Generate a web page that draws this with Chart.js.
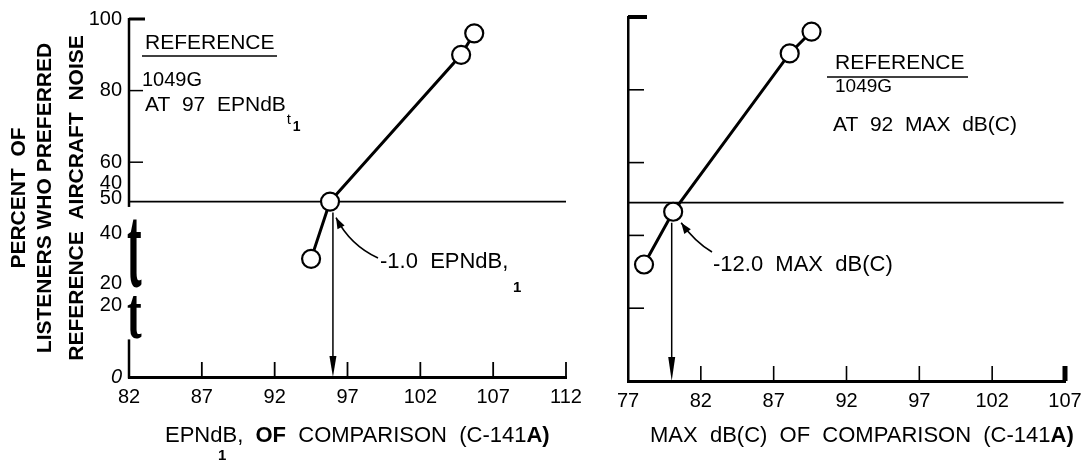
<!DOCTYPE html>
<html><head><meta charset="utf-8">
<script src="https://cdn.jsdelivr.net/npm/chart.js@4/dist/chart.umd.min.js"></script>
<style>
html,body{margin:0;padding:0;background:#fff;}
#wrap{position:relative;width:1091px;height:463px;background:#fff;}
canvas{position:absolute;left:0;top:0;}
</style></head><body>
<div id="wrap"><canvas id="c1" width="1091" height="463"></canvas><canvas id="c2" width="1091" height="463"></canvas></div>
<script>
// ---- data ----
const leftX = [94.5, 95.8, 104.8, 105.7];
const leftY = [33, 49, 90, 96];
const rightX = [78.1, 80.1, 88.1, 89.6];
const rightY = [32, 46.5, 90, 96];
const referenceLevel = 49;
const leftCrossX = 96;   // 97 - 1.0 EPNdB
const rightCrossX = 80;  // 92 - 12.0 MAX dB(C)
const leftXTicks = [82, 87, 92, 97, 102, 107, 112];
const rightXTicks = [77, 82, 87, 92, 97, 102, 107];
const leftYTickValues = [0, 20, 26, 40, 50, 54, 60, 80, 100];
const leftYTickLabels = ['0', '20', '20', '40', '50', '40', '60', '80', '100'];
const leftYMarks = [60, 80, 100];
const rightYMarks = [20, 40, 60, 80, 100];

const FONT = '"Liberation Sans", Arial, sans-serif';

function line(ctx, x1, y1, x2, y2, w) { ctx.beginPath(); ctx.lineWidth = w; ctx.moveTo(x1, y1); ctx.lineTo(x2, y2); ctx.stroke(); }
function txt(ctx, s, x, y, font, align) { ctx.font = font; ctx.textAlign = align || 'left'; ctx.fillText(s, x, y); return ctx.measureText(s).width; }
function arrowHead(ctx, x, y, dx, dy, len, half) {
  const n = Math.hypot(dx, dy), ux = dx / n, uy = dy / n;
  ctx.beginPath(); ctx.moveTo(x, y);
  ctx.lineTo(x - ux * len - uy * half, y - uy * len + ux * half);
  ctx.lineTo(x - ux * len + uy * half, y - uy * len - ux * half);
  ctx.closePath(); ctx.fill();
}
function curvedArrow(ctx, sx, sy, cx, cy, ex, ey) {
  ctx.beginPath(); ctx.lineWidth = 1.6; ctx.moveTo(sx, sy); ctx.quadraticCurveTo(cx, cy, ex, ey); ctx.stroke();
  arrowHead(ctx, ex, ey, ex - cx, ey - cy, 11, 4);
}
function seq(ctx, parts, x, y) {
  parts.forEach(p => { ctx.font = p[1]; ctx.textAlign = 'left'; ctx.fillText(p[0], x, y); x += ctx.measureText(p[0]).width; });
}

const leftDeco = {
  id: 'leftDeco',
  afterDraw(chart) {
    const { ctx, chartArea: a, scales: { x, y } } = chart;
    ctx.save(); ctx.strokeStyle = '#000'; ctx.fillStyle = '#000'; ctx.textBaseline = 'middle';
    // broken y axis
    line(ctx, a.left, y.getPixelForValue(100) - 1, a.left, y.getPixelForValue(47.5), 2.5);
    line(ctx, a.left, y.getPixelForValue(10.5), a.left, a.bottom + 1.5, 2.5);
    // bracket glyphs
    ctx.textBaseline = 'alphabetic'; ctx.textAlign = 'left';
    ctx.font = 'bold 44px "Liberation Serif", serif';
    ctx.save(); ctx.translate(a.left - 2, 287); ctx.scale(1, 2.7); ctx.fillText('t', 0, 0); ctx.restore();
    ctx.save(); ctx.translate(a.left - 2, 338); ctx.scale(1, 1.7); ctx.fillText('t', 0, 0); ctx.restore();
    ctx.textBaseline = 'middle';
    // inward ticks
    leftYMarks.forEach(v => { const py = y.getPixelForValue(v); line(ctx, a.left, py, a.left + (v === 100 ? 16 : 14), py, v === 100 ? 3 : 1.5); });
    leftXTicks.slice(1).forEach(v => { const px = x.getPixelForValue(v); line(ctx, px, a.bottom, px, a.bottom - 15, 1.8); });
    // vertical arrow
    const ax = x.getPixelForValue(leftCrossX);
    const ty = y.getPixelForValue(leftY[1]) + 11;
    line(ctx, ax, ty, ax, a.bottom - 15, 1.5);
    arrowHead(ctx, ax, a.bottom, 0, 1, 21, 3.5);
    // curved arrow
    const px = x.getPixelForValue(leftX[1]), py = y.getPixelForValue(leftY[1]);
    curvedArrow(ctx, 378, 258, 350, 245, px + 6, py + 16);
    // annotations
    txt(ctx, 'REFERENCE', 145, 43, '21px ' + FONT);
    line(ctx, 142, 56, 277, 56, 1.5);
    txt(ctx, '1049G', 142, 80, '20px ' + FONT);
    const w = txt(ctx, 'AT  97  EPNdB', 145, 105, '21px ' + FONT);
    txt(ctx, 't', 145 + w + 1, 120, '15px ' + FONT);
    txt(ctx, '1', 145 + w + 7, 127, 'bold 14px ' + FONT);
    txt(ctx, '-1.0  EPNdB,', 380, 262, '22px ' + FONT);
    txt(ctx, '1', 513, 288, 'bold 15px ' + FONT);
    // x title
    seq(ctx, [['EPNdB,  ', '22px ' + FONT], ['OF', 'bold 22px ' + FONT], ['  COMPARISON  (C-141', '22px ' + FONT], ['A)', 'bold 22px ' + FONT]], 165, 436);
    txt(ctx, '1', 218, 456, 'bold 15px ' + FONT);
    // y title
    const ytitle = ['PERCENT  OF', 'LISTENERS WHO PREFERRED', 'REFERENCE  AIRCRAFT  NOISE'];
    const xs = [19, 45, 77];
    ytitle.forEach((s, i) => { ctx.save(); ctx.translate(xs[i], 198); ctx.rotate(-Math.PI / 2); txt(ctx, s, 0, 0, 'bold 21px ' + FONT, 'center'); ctx.restore(); });
    ctx.restore();
  }
};

const rightDeco = {
  id: 'rightDeco',
  afterDraw(chart) {
    const { ctx, chartArea: a, scales: { x, y } } = chart;
    ctx.save(); ctx.strokeStyle = '#000'; ctx.fillStyle = '#000'; ctx.textBaseline = 'middle';
    rightYMarks.forEach(v => { const py = y.getPixelForValue(v); line(ctx, a.left, py, a.left + (v === 100 ? 19 : 16), py, v === 100 ? 4 : 1.6); });
    rightXTicks.slice(1).forEach(v => { const px = x.getPixelForValue(v); line(ctx, px, a.bottom, px, a.bottom - 15, v === 107 ? 5 : 1.6); });
    const ax = x.getPixelForValue(rightCrossX);
    const ty = y.getPixelForValue(rightY[1]) + 11;
    line(ctx, ax, ty, ax, a.bottom - 15, 1.5);
    arrowHead(ctx, ax, a.bottom, 0, 1, 24, 3.5);
    const px = x.getPixelForValue(rightX[1]), py = y.getPixelForValue(rightY[1]);
    curvedArrow(ctx, 712, 252, 695, 242, px + 8, py + 11);
    txt(ctx, 'REFERENCE', 835, 63, '21px ' + FONT);
    line(ctx, 827, 77, 968, 77, 1.5);
    txt(ctx, '1049G', 835, 87, '19px ' + FONT);
    txt(ctx, 'AT  92  MAX  dB(C)', 833, 125, '21px ' + FONT);
    txt(ctx, '-12.0  MAX  dB(C)', 713, 265, '22px ' + FONT);
    seq(ctx, [['MAX  dB(C)  OF  COMPARISON  (C-141', '22px ' + FONT], ['A)', 'bold 22px ' + FONT]], 650, 436);
    ctx.restore();
  }
};

function pointSet(xs, ys) {
  return { data: xs.map((v, i) => ({ x: v, y: ys[i] })), showLine: true, borderColor: '#000', borderWidth: 3,
    pointRadius: 9, pointBackgroundColor: '#fff', pointBorderColor: '#000', pointBorderWidth: 2.2 };
}
function refSet(x0, x1) {
  return { data: [{ x: x0, y: referenceLevel }, { x: x1, y: referenceLevel }], showLine: true, borderColor: '#000', borderWidth: 1.6, pointRadius: 0 };
}
const tickFont = (size) => (c) => ({ family: FONT, size: size, style: (c.tick && c.tick.value === 0 && c.scale && c.scale.axis === 'y') ? 'italic' : 'normal' });

new Chart(document.getElementById('c1'), {
  type: 'scatter',
  data: { datasets: [pointSet(leftX, leftY), refSet(82, 112)] },
  options: {
    responsive: false, animation: false, events: [],
    layout: { padding: { left: 0, top: 16, right: 525, bottom: 0 } },
    plugins: { legend: { display: false }, tooltip: { enabled: false } },
    scales: {
      x: { type: 'linear', min: 82, max: 112,
        afterBuildTicks: s => { s.ticks = leftXTicks.map(v => ({ value: v })); },
        ticks: { color: '#000', font: tickFont(20), padding: 8, autoSkip: false, maxRotation: 0 },
        grid: { display: false, drawTicks: false }, border: { display: true, color: '#000', width: 3 },
        afterFit: s => { s.height = 86; } },
      y: { type: 'linear', min: 0, max: 100,
        afterBuildTicks: s => { s.ticks = leftYTickValues.map(v => ({ value: v })); },
        ticks: { color: '#000', font: tickFont(20), padding: 7, autoSkip: false,
          callback: (v) => leftYTickLabels[leftYTickValues.indexOf(v)] },
        grid: { display: false, drawTicks: false }, border: { display: false },
        afterFit: s => { s.width = 129; } }
    }
  },
  plugins: [leftDeco]
});

new Chart(document.getElementById('c2'), {
  type: 'scatter',
  data: { datasets: [pointSet(rightX, rightY), refSet(77, 106.9)] },
  options: {
    responsive: false, animation: false, events: [],
    layout: { padding: { left: 0, top: 17, right: 26, bottom: 0 } },
    plugins: { legend: { display: false }, tooltip: { enabled: false } },
    scales: {
      x: { type: 'linear', min: 77, max: 107,
        afterBuildTicks: s => { s.ticks = rightXTicks.map(v => ({ value: v })); },
        ticks: { color: '#000', font: tickFont(20), padding: 8, autoSkip: false, maxRotation: 0 },
        grid: { display: false, drawTicks: false }, border: { display: true, color: '#000', width: 3 },
        afterFit: s => { s.height = 82; } },
      y: { type: 'linear', min: 0, max: 100,
        ticks: { display: false },
        grid: { display: false, drawTicks: false }, border: { display: true, color: '#000', width: 2.5 },
        afterFit: s => { s.width = 628; } }
    }
  },
  plugins: [rightDeco]
});
</script>
</body></html>
